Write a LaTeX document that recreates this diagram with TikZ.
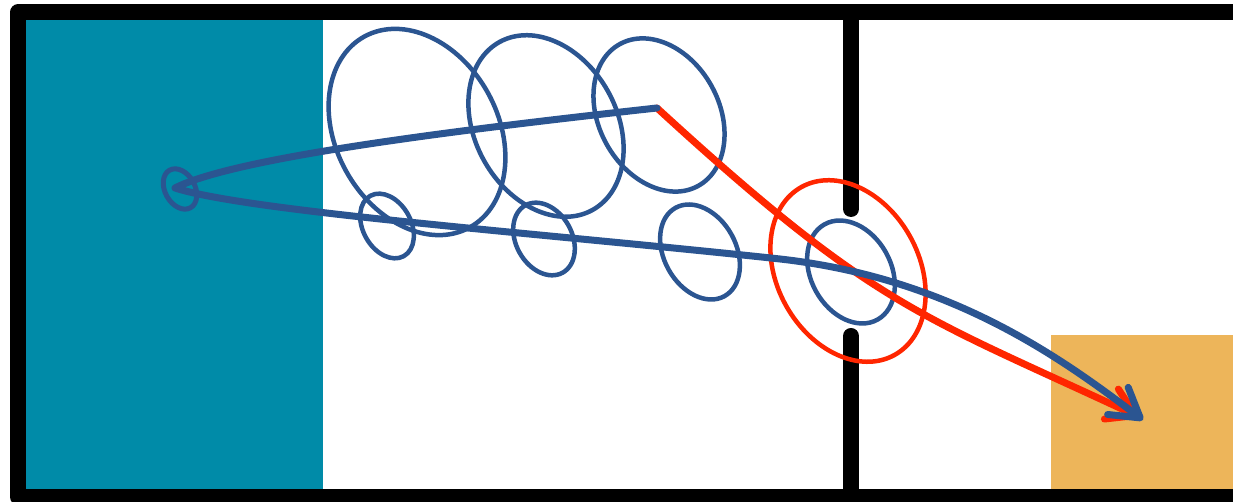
\documentclass[tikz,border=0pt]{standalone}
\usetikzlibrary{shapes.geometric,arrows.meta}
\definecolor{teal0}{RGB}{0,139,168}
\definecolor{orange0}{RGB}{237,181,90}
\definecolor{blue0}{RGB}{43,85,145}
\definecolor{red0}{RGB}{255,38,0}
\tikzset{
  wall/.style={line width=16pt, black},
  blueell/.style={draw=blue0, line width=4.5pt, ellipse, inner sep=0pt, rotate=-61},
  redell/.style={draw=red0, line width=4.5pt, ellipse, inner sep=0pt, rotate=-61},
  bluepath/.style={draw=blue0, line width=7pt, line cap=round, line join=round,
    -{Straight Barb[length=28pt, width=34pt, line width=7pt, round]}},
  redpath/.style={draw=red0, line width=7pt, line cap=round,
    -{Straight Barb[length=27pt, width=33pt, line width=7pt, round]}}
}
\begin{document}
\begin{tikzpicture}[x=1pt,y=1pt]
\useasboundingbox (0,0) rectangle (1233,502);
\clip (0,0) rectangle (1233,502);
% areas
\fill[teal0] (26,12) rectangle (323,482);
\fill[orange0] (1051,12) rectangle (1240,167);
% walls
\draw[wall, line join=round] (1250,489.5) -- (18,489.5) -- (18,5) -- (1250,5);
\draw[wall, line cap=round] (851,489.5) -- (851,293);
\draw[wall, line cap=round] (851,5) -- (851,166);
% red ellipse at door
\node[redell, minimum width=192pt, minimum height=142pt] (r1) at (848,231) {};
% blue ellipses
\node[blueell, minimum width=218pt, minimum height=162pt] (e1) at (417,370) {};
\node[blueell, minimum width=192pt, minimum height=142pt] (e2) at (546,376) {};
\node[blueell, minimum width=162pt, minimum height=120pt] (e3) at (659,387) {};
\node[blueell, minimum width=69pt, minimum height=48pt] (e4) at (387,276) {};
\node[blueell, minimum width=77pt, minimum height=56pt] (e5) at (544,263) {};
\node[blueell, minimum width=101pt, minimum height=72pt] (e6) at (700,250) {};
\node[blueell, minimum width=109pt, minimum height=80pt] (e7) at (851,230) {};
\node[blueell, line width=5pt, minimum width=43pt, minimum height=30pt] (e0) at (180,313) {};
% path points
\coordinate (src) at (657,394);
\coordinate (tip) at (175,314);
\coordinate (mid) at (780,243);
\coordinate (goalb) at (1143,82);
\coordinate (goalr) at (1139,85);
% red path
\draw[redpath] (src) .. controls (876,193) and (921,187) .. (goalr);
% blue path
\draw[bluepath] (src) .. controls (420,368) and (230,342) .. (tip)
  .. controls (250,290) and (550,268) .. (mid)
  .. controls (950,224) and (1060,145) .. (goalb);
\end{tikzpicture}
\end{document}
